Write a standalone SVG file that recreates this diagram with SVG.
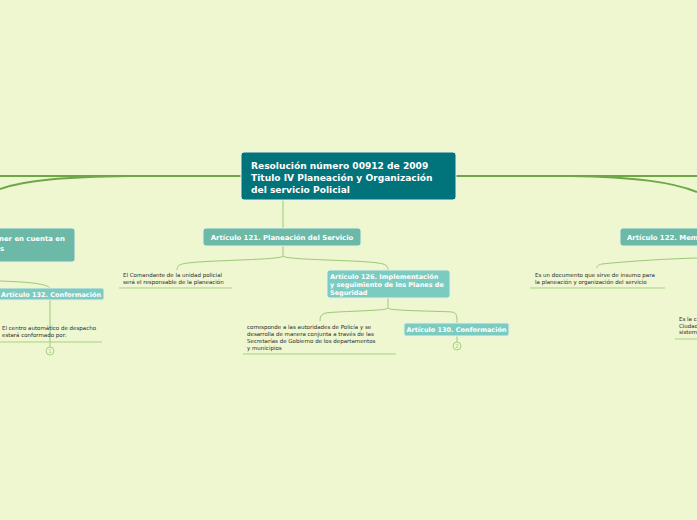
<svg xmlns="http://www.w3.org/2000/svg" width="697" height="520" viewBox="0 0 697 520">
<style>
.bg{fill:#eef7d0}
.main{fill:none;stroke:#6ea648;stroke-width:2}
.sub{fill:none;stroke:#9cc878;stroke-width:1}
.ul{fill:none;stroke:#a9cf86;stroke-width:1}
.central{fill:#01737b;stroke:#e9f5ef;stroke-width:1}
.t1{fill:#6cb9a8;stroke:#e4f2ea;stroke-width:1}
.t2{fill:#7ccbc1;stroke:#e4f2ea;stroke-width:1}
.ct{font-family:"DejaVu Sans",Verdana,sans-serif;font-weight:bold;font-size:9.1px;fill:#ffffff}
.nt{font-family:"DejaVu Sans",Verdana,sans-serif;font-weight:bold;font-size:6.9px;fill:#ffffff}
.nt2{font-family:"DejaVu Sans",Verdana,sans-serif;font-weight:bold;font-size:6.5px;fill:#ffffff}
.st{font-family:"DejaVu Sans",Verdana,sans-serif;font-size:5.5px;fill:#2a2a2a}
.circ{fill:none;stroke:#a9cf86;stroke-width:1}
.ctxt{font-family:"DejaVu Sans",sans-serif;font-size:5.5px;fill:#a9cf86;text-anchor:middle}
</style>
<rect class="bg" x="0" y="0" width="697" height="520"/>
<g id="connectors">
<path class="main" d="M0 176 L241 176"/>
<path class="main" d="M130 176 C65 177 25 180 0 189"/>
<path class="main" d="M456 176 L697 176"/>
<path class="main" d="M570 176 C635 177 672 182 697 192"/>
<path class="sub" d="M283 200 L283 228"/>
<path class="sub" d="M283 246 L283 256 C283 260 210 260 188 263 C179 264 177 266 177 270"/>
<path class="sub" d="M283 256 C283 260 360 260 378 263 C386 264 388 266 388 270"/>
<path class="sub" d="M697 258 C660 259 620 262 602 264 C598 265 597 266 597 268"/>
<path class="sub" d="M388 298 L388 308 C388 311 340 311 326 313 C321 314 320 317 320 321"/>
<path class="sub" d="M388 308 C388 311 440 311 452 312 C457 313 457 316 457 323"/>
<path class="sub" d="M457 336 L457 342"/>
<path class="sub" d="M0 281 C25 282 45 283 50 288"/>
<path class="sub" d="M50 300 L50 347"/>
</g>
<g id="central">
<rect class="central" x="241" y="152" width="215" height="48" rx="3"/>
<text class="ct" x="251" y="169">Resolución número 00912 de 2009</text>
<text class="ct" x="251" y="181">Titulo IV Planeación y Organización</text>
<text class="ct" x="251" y="193">del servicio Policial</text>
</g>
<g id="n-left">
<rect class="t1" x="-10" y="228" width="85" height="34" rx="3"/>
<text class="nt" x="-1" y="240.5">ner en cuenta en</text>
<text class="nt" x="0" y="250.5">s</text>
</g>
<g id="n121">
<rect class="t1" x="203" y="228" width="158" height="18" rx="3"/>
<text class="nt" x="282" y="239.5" text-anchor="middle">Artículo 121. Planeación del Servicio</text>
</g>
<g id="n122">
<rect class="t1" x="620" y="228" width="100" height="18" rx="3"/>
<text class="nt" x="627" y="239.5">Artículo 122. Mem</text>
</g>
<g id="s121">
<text class="st" x="123" y="277">El Comandante de la unidad policial</text>
<text class="st" x="123" y="284">será el responsable de la planeación</text>
<path class="ul" d="M119 288 L232 288"/>
</g>
<g id="n126">
<rect class="t2" x="327" y="270" width="123" height="28" rx="3"/>
<text class="nt2" x="330" y="278.5">Artículo 126. Implementación</text>
<text class="nt2" x="330" y="286.5">y seguimiento de los Planes de</text>
<text class="nt2" x="330" y="294.5">Seguridad</text>
</g>
<g id="s122">
<text class="st" x="535" y="277">Es un documento que sirve de insumo para</text>
<text class="st" x="535" y="284">la planeación y organización del servicio</text>
<path class="ul" d="M530 288 L665 288"/>
</g>
<g id="s126">
<text class="st" x="247" y="329">corresponde a las autoridades de Policía y se</text>
<text class="st" x="247" y="336">desarrolla de manera conjunta a través de las</text>
<text class="st" x="247" y="343">Secretarías de Gobierno de los departamentos</text>
<text class="st" x="247" y="350">y municipios</text>
<path class="ul" d="M243 354 L396 354"/>
</g>
<g id="n130">
<rect class="t2" x="404" y="323" width="105" height="13" rx="2"/>
<text class="nt2" x="456.5" y="332" text-anchor="middle">Artículo 130. Conformación</text>
<circle class="circ" cx="457" cy="346" r="4"/>
<text class="ctxt" x="457" y="348">2</text>
</g>
<g id="n132">
<rect class="t2" x="-5" y="288" width="109" height="12" rx="2"/>
<text class="nt2" x="1" y="296.5">Artículo 132. Conformación</text>
</g>
<g id="s132">
<text class="st" x="2" y="330">El centro automático de despacho</text>
<text class="st" x="2" y="337">estará conformado por:</text>
<path class="ul" d="M0 342 L102 342"/>
<circle class="circ" cx="50" cy="351" r="4"/>
<text class="ctxt" x="50" y="353">1</text>
</g>
<g id="s-right">
<text class="st" x="679" y="321">Es la c</text>
<text class="st" x="679" y="328">Ciudad</text>
<text class="st" x="679" y="334">sistem</text>
<path class="ul" d="M675 339 L697 339"/>
</g>
</svg>
